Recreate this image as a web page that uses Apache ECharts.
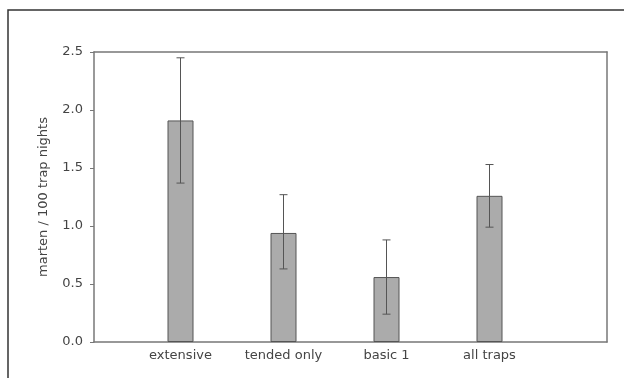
<!DOCTYPE html>
<html>
<head>
<meta charset="utf-8">
<script src="https://cdn.jsdelivr.net/npm/echarts@6/dist/echarts.min.js"></script>
<style>html,body{margin:0;padding:0;background:#fff;}#c{width:624px;height:378px;}</style>
</head>
<body>
<div id="c"></div>
<script>
var categories = ['extensive', 'tended only', 'basic 1', 'all traps'];
var means = [1.91, 0.94, 0.56, 1.26];
var upper = [2.45, 1.27, 0.88, 1.53];
var lower = [1.37, 0.63, 0.24, 0.99];
var yTicks = [0, 0.5, 1.0, 1.5, 2.0, 2.5];

var chart = echarts.init(document.getElementById('c'));
var font = 'DejaVu Sans, sans-serif';
var errData = categories.map(function (c, i) { return [i, lower[i], upper[i]]; });
var frameLine = { show: true, onZero: false, lineStyle: { color: '#777', width: 1.5 } };

chart.setOption({
  animation: false,
  graphic: [
    { type: 'rect', shape: { x: 8, y: 10, width: 700, height: 500 }, style: { fill: 'none', stroke: '#333', lineWidth: 1.5 }, silent: true },
    { type: 'text', x: 44, y: 197, rotation: Math.PI / 2, style: { text: 'marten / 100 trap nights', font: '13px ' + font, fill: '#444', align: 'center', verticalAlign: 'middle' } }
  ],
  grid: [
    { left: 94, top: 52, width: 513, height: 290 },
    { left: 129, top: 52, width: 412, height: 290 }
  ],
  xAxis: [
    { gridIndex: 0, type: 'value', min: 0, max: 1, position: 'bottom', axisLine: frameLine, axisTick: { show: false }, axisLabel: { show: false }, splitLine: { show: false } },
    { gridIndex: 0, type: 'value', min: 0, max: 1, position: 'top', axisLine: frameLine, axisTick: { show: false }, axisLabel: { show: false }, splitLine: { show: false } },
    { gridIndex: 1, type: 'category', data: categories, axisLine: { show: false }, axisTick: { show: false }, axisLabel: { margin: 7, fontSize: 13, color: '#444', fontFamily: font } }
  ],
  yAxis: [
    { gridIndex: 0, type: 'value', min: 0, max: 2.5, interval: 0.5, position: 'left',
      axisLine: frameLine,
      axisTick: { show: true, length: 4, lineStyle: { color: '#777' } },
      axisLabel: { margin: 11, fontSize: 13, color: '#444', fontFamily: font, formatter: function (v) { return v.toFixed(1); } },
      splitLine: { show: false } },
    { gridIndex: 0, type: 'value', min: 0, max: 2.5, position: 'right', axisLine: frameLine, axisTick: { show: false }, axisLabel: { show: false }, splitLine: { show: false } },
    { gridIndex: 1, type: 'value', min: 0, max: 2.5, show: false }
  ],
  series: [
    { type: 'bar', xAxisIndex: 2, yAxisIndex: 2, data: means, barWidth: 26,
      itemStyle: { color: '#ababab', borderColor: '#555', borderWidth: 1 } },
    { type: 'custom', xAxisIndex: 2, yAxisIndex: 2, data: errData, z: 10,
      renderItem: function (params, api) {
        var x = api.value(0);
        var lo = api.coord([x, api.value(1)]);
        var hi = api.coord([x, api.value(2)]);
        var hw = 4;
        var st = { stroke: '#555', lineWidth: 1 };
        return { type: 'group', children: [
          { type: 'line', shape: { x1: lo[0], y1: lo[1], x2: hi[0], y2: hi[1] }, style: st },
          { type: 'line', shape: { x1: hi[0] - hw, y1: hi[1], x2: hi[0] + hw, y2: hi[1] }, style: st },
          { type: 'line', shape: { x1: lo[0] - hw, y1: lo[1], x2: lo[0] + hw, y2: lo[1] }, style: st }
        ] };
      }
    }
  ]
});
</script>
</body>
</html>
